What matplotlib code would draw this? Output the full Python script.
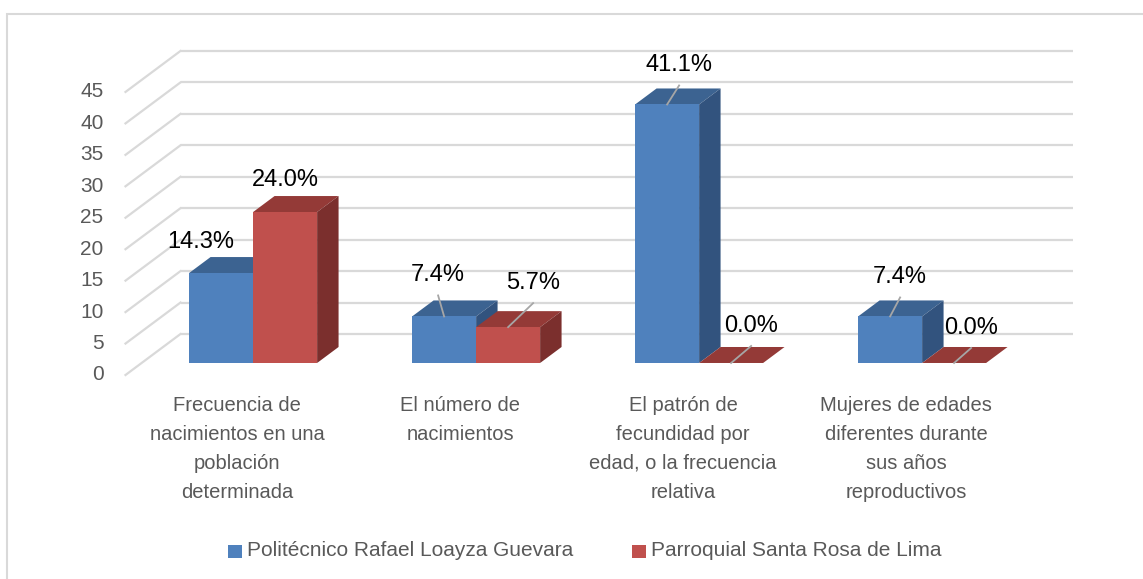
import matplotlib
matplotlib.use("Agg")
import matplotlib.pyplot as plt
from matplotlib.patches import Polygon, Rectangle

# ---------------- data ----------------
categories = [
    "Frecuencia de\nnacimientos en una\npoblación\ndeterminada",
    "El número de\nnacimientos",
    "El patrón de\nfecundidad por\nedad, o la frecuencia\nrelativa",
    "Mujeres de edades\ndiferentes durante\nsus años\nreproductivos",
]
series_names = ["Politécnico Rafael Loayza Guevara", "Parroquial Santa Rosa de Lima"]
politecnico = [14.3, 7.4, 41.1, 7.4]
parroquial = [24.0, 5.7, 0.0, 0.0]
yticks = [0, 5, 10, 15, 20, 25, 30, 35, 40, 45]
series = [politecnico, parroquial]

# ---------------- style ----------------
front_col = ["#4F81BD", "#C0504D"]
top_col = ["#3C6391", "#943A37"]
side_col = ["#32537E", "#7B2F2D"]
grid_col = "#D9D9D9"
txt_gray = "#595959"
FONT = ["Liberation Sans", "DejaVu Sans"]

# label offsets in pixels relative to the front-top centre of each bar
lab_dx = [[-20, -6, 12, 10], [0, 25, 20, 17]]
lab_dy = [[-31, -41, -39, -39], [-32, -44, -37, -35]]
leader = [[False, True, True, True], [False, True, True, True]]

W, H = 1143, 579
fig = plt.figure(figsize=(W / 100, H / 100), dpi=100)
ax = fig.add_axes([0, 0, 1, 1])
X0, XS = 237, 223      # pixel of category 0 (front plane), pixels per category
Y0, YS = 375, 6.29     # pixel of value 0 (front plane), pixels per unit
ax.set_xlim(-X0 / XS, (W - X0) / XS)
ax.set_ylim(-(H - Y0) / YS, Y0 / YS)
ax.axis("off")


def px(p):
    return p / XS


def py(p):
    return p / YS


DX, DY = px(55), py(41)    # full depth of the 3D box
D0, D1 = 0.293, 0.683      # bar depth range
BW = px(64)                # bar width

# chart border
ax.add_patch(Rectangle((px(7 - X0), -(H + 20 - Y0) / YS), px(W + 20), py(H + 20 - 14),
                       fill=False, ec=grid_col, lw=1.5, zorder=0))

# walls: back grid lines and side diagonals
xa, xb = -0.5, len(categories) - 0.5
for v in yticks:
    ax.plot([xa + DX, xb + DX], [v + DY, v + DY], color=grid_col, lw=1.6, zorder=1,
            solid_capstyle="butt")
    ax.plot([xa, xa + DX], [v, v + DY], color=grid_col, lw=1.6, zorder=1)
    ax.text(xa - px(22), v, str(v), ha="right", va="center", fontsize=15,
            color=txt_gray, family=FONT)

# bars
nser = len(series)
for i in range(len(categories)):
    for j in range(nser):
        v = series[j][i]
        xl = i - BW + j * BW
        xr = xl + BW
        b0 = D0 * DY
        z = 3 + i * 2 + j * 0.5
        # top face
        ax.add_patch(Polygon([(xl + D0 * DX, v + D0 * DY), (xr + D0 * DX, v + D0 * DY),
                              (xr + D1 * DX, v + D1 * DY), (xl + D1 * DX, v + D1 * DY)],
                             closed=True, fc=top_col[j], ec="none", zorder=z))
        # side face
        if v > 0:
            ax.add_patch(Polygon([(xr + D0 * DX, D0 * DY), (xr + D1 * DX, D1 * DY),
                                  (xr + D1 * DX, v + D1 * DY), (xr + D0 * DX, v + D0 * DY)],
                                 closed=True, fc=side_col[j], ec="none", zorder=z))
            ax.bar(xl + D0 * DX, v, width=BW, bottom=b0, align="edge",
                   color=front_col[j], zorder=z + 0.1, lw=0)
        # data label
        cx, cy = xl + D0 * DX + BW / 2, v + b0
        lx, ly = cx + px(lab_dx[j][i]), cy - py(lab_dy[j][i])
        ax.text(lx, ly, f"{v:.1f}%", ha="center", va="center", fontsize=17,
                color="black", family=FONT, zorder=20)
        if leader[j][i]:
            ax.plot([lx, cx], [ly - py(20), cy], color="#A6A6A6", lw=1.3, zorder=19)

# category labels
for i, c in enumerate(categories):
    ax.text(i, -py(396 - Y0), c, ha="center", va="top", fontsize=14.5,
            color=txt_gray, family=FONT, linespacing=1.66)

# legend
leg_x = [228, 632]
for j, name in enumerate(series_names):
    ax.add_patch(Rectangle((px(leg_x[j] - X0), -py(558 - Y0)), px(14), py(13),
                           fc=front_col[j], ec="none"))
    ax.text(px(leg_x[j] + 19 - X0), -py(551 - Y0), name, ha="left", va="center",
            fontsize=15, color=txt_gray, family=FONT)

fig.savefig("out.png", dpi=100)
